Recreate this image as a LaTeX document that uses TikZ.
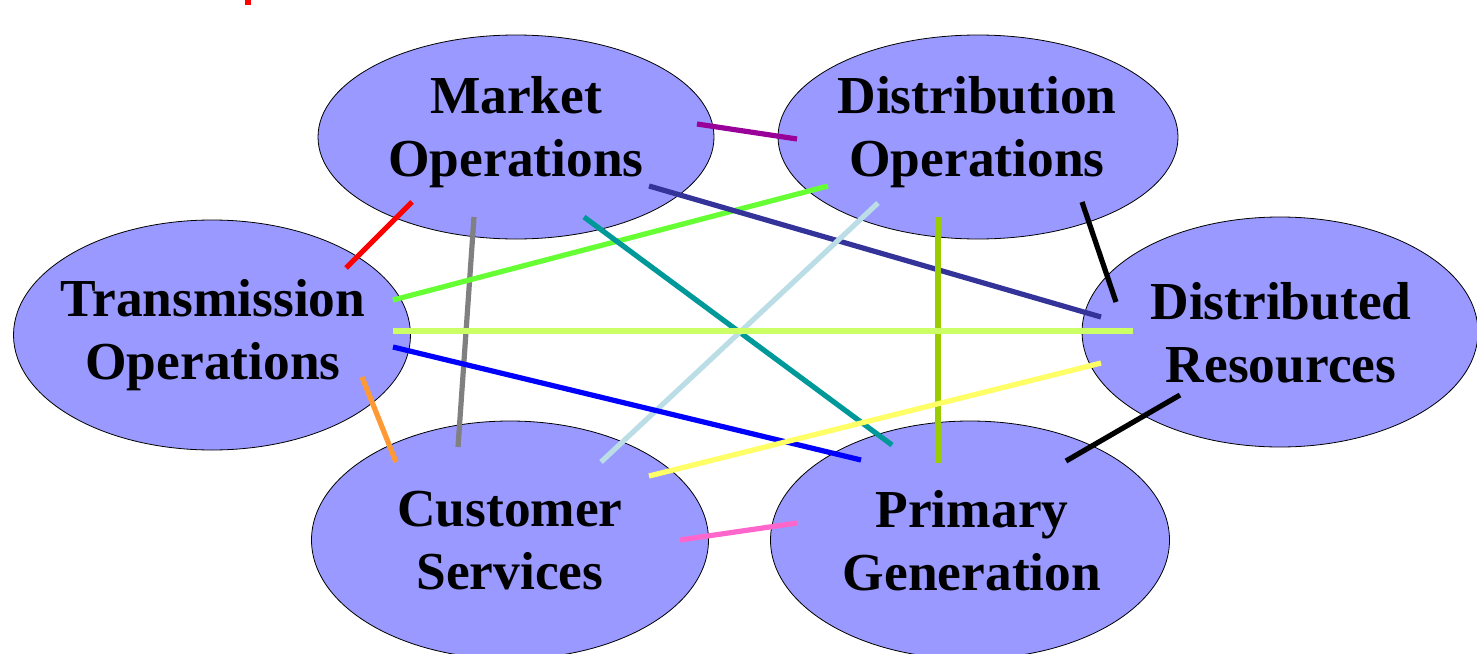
\documentclass[tikz,border=0pt]{standalone}
\usepackage{fontspec}
\setmainfont{Liberation Serif}
\usetikzlibrary{shapes.geometric}
\definecolor{ovalfill}{RGB}{153,153,255}
\definecolor{cpurple}{RGB}{153,0,153}
\definecolor{cnavy}{RGB}{51,51,153}
\definecolor{cteal}{RGB}{0,153,153}
\definecolor{cpaleblue}{RGB}{187,221,230}
\definecolor{cygreen}{RGB}{153,204,0}
\definecolor{clime}{RGB}{204,255,102}
\definecolor{cyellow}{RGB}{255,255,102}
\definecolor{corange}{RGB}{255,153,51}
\definecolor{cpink}{RGB}{255,102,204}
\definecolor{cgreen}{RGB}{102,255,51}
\tikzset{
  oval/.style={draw=black, line width=0.8pt, fill=ovalfill, ellipse, inner sep=0pt},
  lbl/.style={font=\bfseries\fontsize{53.4}{63}\selectfont, align=center, inner sep=0pt},
  link/.style={line width=5.2pt}
}
\begin{document}
\begin{tikzpicture}[x=1pt,y=-1pt]
\useasboundingbox (0,0) rectangle (1477,653);
\fill[red] (245,0) rectangle (251,5);
% ovals
\node[oval, minimum width=396, minimum height=204] (mo) at (516,137) {};
\node[oval, minimum width=400, minimum height=204] (do) at (978,137) {};
\node[oval, minimum width=397, minimum height=230] (to) at (212,335) {};
\node[oval, minimum width=396, minimum height=230] (dr) at (1280,332) {};
\node[oval, minimum width=397, minimum height=238] (cs) at (510,540) {};
\node[oval, minimum width=399, minimum height=238] (pg) at (970,540) {};
% labels
\node[lbl] (mol) at (516,132) {Market\\Operations};
\node[lbl] (dol) at (977,132) {Distribution\\Operations};
\node[lbl] (tol) at (213,335) {Transmission\\Operations};
\node[lbl] (drl) at (1281,333) {Distributed\\Resources};
\node[lbl] (csl) at (510,541) {Customer\\Services};
\node[lbl] (pgl) at (972,541) {Primary\\Generation};
% connector end points
\coordinate (r1) at (346,268); \coordinate (r2) at (412,202);
\coordinate (g1) at (474,217); \coordinate (g2) at (458,447);
\coordinate (gr1) at (393,300); \coordinate (gr2) at (828,186);
\coordinate (p1) at (697,124); \coordinate (p2) at (797,139);
\coordinate (n1) at (649,186); \coordinate (n2) at (1101,317);
\coordinate (t1) at (584,217); \coordinate (t2) at (892,445);
\coordinate (lb1) at (878,203); \coordinate (lb2) at (601,462);
\coordinate (yg1) at (938,217); \coordinate (yg2) at (938,463);
\coordinate (k1) at (1082,202); \coordinate (k2) at (1116,302);
\coordinate (l1) at (393,331); \coordinate (l2) at (1133,331);
\coordinate (b1) at (393,347); \coordinate (b2) at (861,460);
\coordinate (y1) at (1101,363); \coordinate (y2) at (649,476);
\coordinate (k3) at (1180,395); \coordinate (k4) at (1066,461);
\coordinate (o1) at (362,377); \coordinate (o2) at (396,462);
\coordinate (pk1) at (680,540); \coordinate (pk2) at (797,523);
% connectors
\draw[link, red] (r1) -- (r2);
\draw[link, gray] (g1) -- (g2);
\draw[link, cgreen] (gr1) -- (gr2);
\draw[link, cpurple] (p1) -- (p2);
\draw[link, cnavy] (n1) -- (n2);
\draw[link, cteal] (t1) -- (t2);
\draw[link, cpaleblue] (lb1) -- (lb2);
\draw[link, cygreen] (yg1) -- (yg2);
\draw[link, black] (k1) -- (k2);
\draw[link, clime] (l1) -- (l2);
\draw[link, blue] (b1) -- (b2);
\draw[link, cyellow] (y1) -- (y2);
\draw[link, black] (k3) -- (k4);
\draw[link, corange] (o1) -- (o2);
\draw[link, cpink] (pk1) -- (pk2);
\end{tikzpicture}
\end{document}
